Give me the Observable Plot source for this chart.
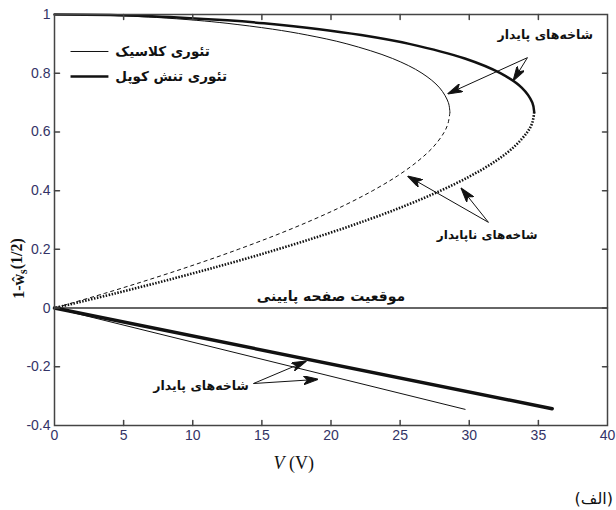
<!DOCTYPE html>
<html><head><meta charset="utf-8">
<script src="https://cdn.jsdelivr.net/npm/d3@7"></script>
<script src="https://cdn.jsdelivr.net/npm/@observablehq/plot@0.6"></script>
<style>
body{margin:0;background:#fff;}
#cap{width:616px;height:30px;text-align:right;box-sizing:border-box;padding-right:3px;font:16px "DejaVu Sans",sans-serif;line-height:38px;color:#111;}
</style>
</head><body><div id="chart"></div><div id="cap">(الف)</div>
<script>
// ---- data ----
const classicUpperV = [0, 3.32, 5.23, 7.36, 10.30, 12.48, 15.78, 18.28, 21.15, 24.46, 26.58, 27.86, 28.49, 28.6];
const upperY        = [1, 0.998, 0.995, 0.99, 0.98, 0.97, 0.95, 0.93, 0.90, 0.85, 0.80, 0.75, 0.70, 0.667];
const coupledUpperV = [0, 4.03, 6.34, 8.92, 12.50, 15.15, 19.15, 22.18, 25.66, 29.68, 32.25, 33.81, 34.56, 34.7];
const unstableY       = [0.667, 0.63, 0.60, 0.55, 0.50, 0.45, 0.40, 0.35, 0.30, 0.25, 0.20, 0.15, 0.10, 0.05, 0];
const classicUnstableV = [28.6, 28.47, 28.20, 27.42, 26.27, 24.80, 23.02, 20.97, 18.65, 16.09, 13.29, 10.28, 7.05, 3.62, 0];
const coupledUnstableV = [34.7, 34.55, 34.21, 33.26, 31.88, 30.09, 27.93, 25.44, 22.63, 19.52, 16.13, 12.47, 8.55, 4.39, 0];
const classicLowerV = [0, 29.7];
const classicLowerY = [0, -0.345];
const coupledLowerV = [0, 36.0];
const coupledLowerY = [0, -0.343];

const xTicks = [0, 5, 10, 15, 20, 25, 30, 35, 40];
const yTicks = [-0.4, -0.2, 0, 0.2, 0.4, 0.6, 0.8, 1];
const yTickLabels = ["-0.4", "-0.2", "0", "0.2", "0.4", "0.6", "0.8", "1"];

const legendNames = ["تئوری کلاسیک", "تئوری تنش کوپل"];
const legendY = [0.874, 0.789];
const legendX1 = 1.16, legendX2 = 3.9, legendTextX = 4.4;

const annTexts = ["شاخه\u200cهای پایدار", "شاخه\u200cهای ناپایدار", "شاخه\u200cهای پایدار", "موقعیت صفحه پایینی"];
const annV = [35.5, 31.3, 10.6, 20.0];
const annY = [0.929, 0.247, -0.264, 0.040];
const annSize = [12.5, 12, 12.5, 14];

const arrowV1 = [34.21, 34.21, 31.39, 31.39, 14.39, 14.39];
const arrowY1 = [0.853, 0.853, 0.292, 0.292, -0.257, -0.257];
const arrowV2 = [28.50, 33.20, 25.60, 29.44, 19.02, 18.16];
const arrowY2 = [0.731, 0.776, 0.448, 0.407, -0.243, -0.182];

const yLabel = "1-ŵs(1/2)";
const xLabel = "V (V)";

// ---- build ----
const pts = (V, Y) => V.map((v, i) => ({V: v, y: Y[i]}));
const ink = "#111";
const tickShape = {draw(ctx, l) { ctx.moveTo(0, 0); ctx.lineTo(0, -l); }};
function filledArrow(color) {
  return d3.create("svg:marker")
    .attr("viewBox", "-14 -4.5 15 9")
    .attr("markerWidth", 15).attr("markerHeight", 9)
    .attr("markerUnits", "userSpaceOnUse")
    .attr("orient", "auto")
    .attr("fill", color)
    .call(m => m.append("path").attr("d", "M-14,-4.5L1,0L-14,4.5L-10,0Z"))
    .node();
}
const arrows = arrowV1.map((v, i) => ({x1: v, y1: arrowY1[i], x2: arrowV2[i], y2: arrowY2[i]}));
const anns = annTexts.map((t, i) => ({t, V: annV[i], y: annY[i], s: annSize[i]}));
const persianFont = {fontFamily: "DejaVu Sans", fontWeight: "bold", fill: ink};

const plot = Plot.plot({
  width: 616, height: 480,
  marginLeft: 54, marginRight: 9, marginTop: 14, marginBottom: 55,
  x: {domain: [0, 40]},
  y: {domain: [-0.4, 1]},
  style: {background: "#fff"},
  marks: [
    Plot.ruleY([0], {stroke: "#333", strokeWidth: 1.4}),
    Plot.line(pts(classicUpperV, upperY), {x: "V", y: "y", curve: "catmull-rom", stroke: ink, strokeWidth: 1}),
    Plot.line(pts(classicUnstableV, unstableY), {x: "V", y: "y", curve: "catmull-rom", stroke: ink, strokeWidth: 1, strokeDasharray: "4,3", strokeLinecap: "butt"}),
    Plot.line(pts(coupledUpperV, upperY), {x: "V", y: "y", curve: "catmull-rom", stroke: ink, strokeWidth: 2.5}),
    Plot.line(pts(coupledUnstableV, unstableY), {x: "V", y: "y", curve: "catmull-rom", stroke: ink, strokeWidth: 2.6, strokeDasharray: "1.5,1.5", strokeLinecap: "butt"}),
    Plot.line(pts(classicLowerV, classicLowerY), {x: "V", y: "y", stroke: ink, strokeWidth: 1}),
    Plot.line(pts(coupledLowerV, coupledLowerY), {x: "V", y: "y", stroke: ink, strokeWidth: 3.5}),
    // legend
    Plot.link(legendY, {x1: legendX1, x2: legendX2, y1: d => d, y2: d => d, stroke: ink, strokeWidth: (d, i) => i === 0 ? 1 : 2.5}),
    Plot.text(legendNames, {x: legendTextX, y: (d, i) => legendY[i], text: d => d, textAnchor: "start", ...persianFont, fontSize: 13.5}),
    // annotations
    Plot.link(arrows, {x1: "x1", y1: "y1", x2: "x2", y2: "y2", stroke: ink, strokeWidth: 1, markerEnd: filledArrow}),
    ...anns.map(a => Plot.text([a], {x: "V", y: "y", text: "t", textAnchor: "middle", ...persianFont, fontSize: a.s})),
    // frame & inward ticks
    Plot.frame({stroke: "#444", strokeWidth: 1.5}),
    Plot.vector(xTicks.slice(1, -1), {x: d => d, y: -0.4, length: 5, rotate: 0, anchor: "start", shape: tickShape, stroke: "#444"}),
    Plot.vector(xTicks.slice(1, -1), {x: d => d, y: 1, length: 5, rotate: 180, anchor: "start", shape: tickShape, stroke: "#444"}),
    Plot.vector(yTicks.slice(1, -1), {x: 0, y: d => d, length: 5, rotate: 90, anchor: "start", shape: tickShape, stroke: "#444"}),
    Plot.vector(yTicks.slice(1, -1), {x: 40, y: d => d, length: 5, rotate: -90, anchor: "start", shape: tickShape, stroke: "#444"}),
    Plot.axisX(xTicks, {tickSize: 0, tickPadding: 5, label: null, fontSize: 14, fontFamily: "Liberation Sans", fill: "#333366"}),
    Plot.axisY(yTicks, {tickSize: 0, tickPadding: 4, label: null, fontSize: 14, fontFamily: "Liberation Sans", fill: "#333366", tickFormat: (d) => yTickLabels[yTicks.indexOf(d)]}),
    // axis titles
    Plot.text([yLabel], {x: 0, y: 0.135, dx: -36, rotate: -90, text: d => d, fontFamily: "Liberation Serif", fontWeight: "bold", fontSize: 16, fill: ink}),
    Plot.text([xLabel], {x: 17.3, y: -0.529, text: d => d, fontFamily: "Liberation Serif", fontSize: 18, fill: ink})
  ]
});

// rich text for axis titles (hat-w with subscript s, italic V)
const svg = d3.select(plot);
svg.selectAll("text").filter(function() { return this.textContent === yLabel; }).each(function() {
  const t = d3.select(this); t.text(null);
  t.append("tspan").text("1-ŵ");
  t.append("tspan").attr("font-size", 12).attr("dy", "0.3em").text("s");
  t.append("tspan").attr("dy", "-0.3em").text("(1/2)");
});
svg.selectAll("text").filter(function() { return this.textContent === xLabel; }).each(function() {
  const t = d3.select(this); t.text(null);
  t.append("tspan").attr("font-style", "italic").text("V");
  t.append("tspan").text(" (V)");
});
document.getElementById("chart").appendChild(plot);
</script>
</body></html>
